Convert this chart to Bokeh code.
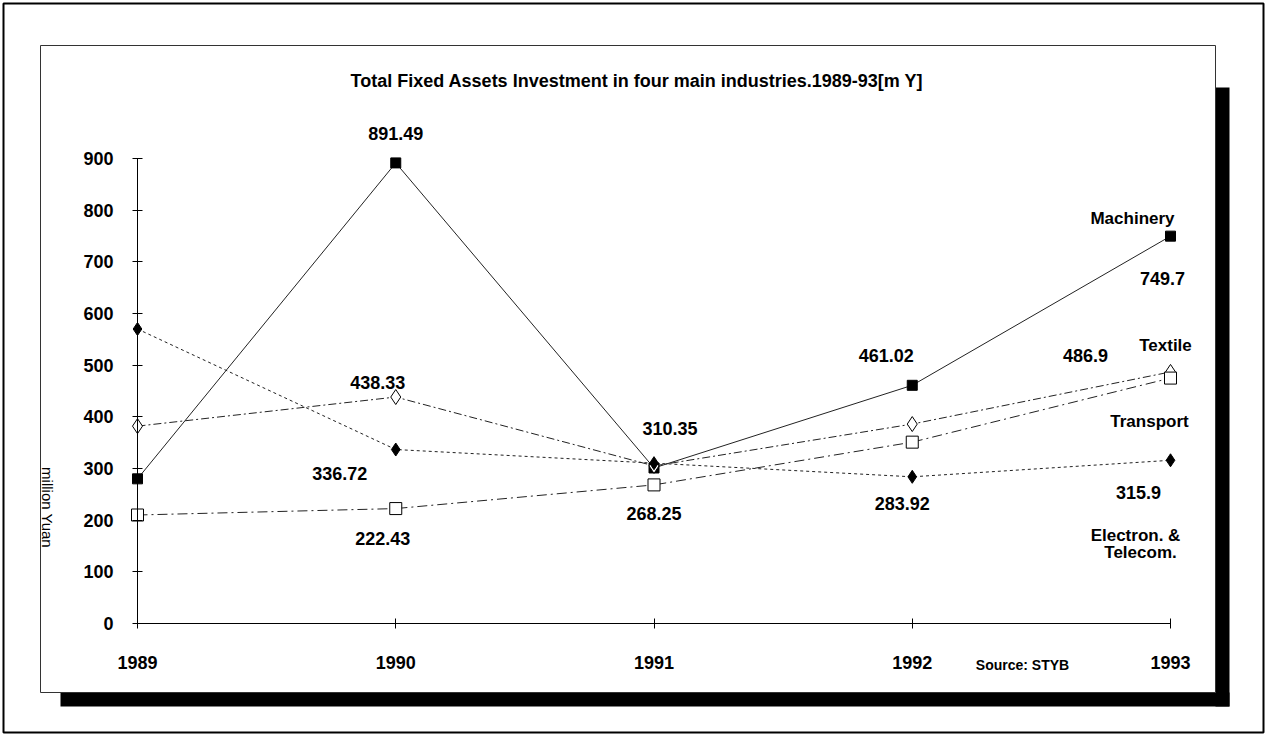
from bokeh.plotting import figure
from bokeh.models import Range1d, FixedTicker
from bokeh.core.properties import value
from bokeh.embed import file_html
from bokeh.resources import INLINE

# ---------------- data ----------------
years = [1989, 1990, 1991, 1992, 1993]
machinery = [280, 891.49, 301, 461.02, 749.7]
textile = [382, 438.33, 305, 386, 486.9]
transport = [210, 222.43, 268.25, 351, 475]
electron = [570, 336.72, 310.35, 283.92, 315.9]
y_ticks = [0, 100, 200, 300, 400, 500, 600, 700, 800, 900]
title_text = "Total Fixed Assets Investment in four main  industries.1989-93[m Y]"
y_label_text = "million Yuan"
source_text = "Source: STYB"
series_names = ["Machinery", "Textile", "Transport", "Electron. &", "Telecom."]

# ---------------- layout (pixels) ----------------
W, H = 1266, 735
X0_PX, X1_PX = 137, 1170      # 1989 .. 1993
Y0_PX, Y1_PX = 623, 158       # 0 .. 900
FONT = "Liberation Sans"

sx = (X1_PX - X0_PX) / (years[-1] - years[0])
sy = (Y0_PX - Y1_PX) / (y_ticks[-1] - y_ticks[0])
x_start = years[0] - X0_PX / sx
x_end = years[0] + (W - X0_PX) / sx
y_start = -(H - Y0_PX) / sy
y_end = Y0_PX / sy


def dx(px):
    return x_start + px / sx


def dy(py):
    return y_end - py / sy


p = figure(width=W, height=H, x_range=Range1d(x_start, x_end),
           y_range=Range1d(y_start, y_end), output_backend="svg",
           toolbar_location=None, min_border=0)
p.outline_line_color = None
p.grid.visible = False
p.background_fill_color = "white"
p.border_fill_color = "white"

# ---------------- decorations ----------------
# outer frame
p.quad(left=[dx(3)], right=[dx(1263)], top=[dy(3)], bottom=[dy(732)],
       fill_color=None, line_color="black", line_width=2)
# drop shadow
p.quad(left=[dx(1215), dx(60)], right=[dx(1229), dx(1229)],
       top=[dy(87), dy(692)], bottom=[dy(706), dy(706)],
       fill_color="black", line_color=None)
# inner box
p.quad(left=[dx(40)], right=[dx(1215)], top=[dy(45)], bottom=[dy(692)],
       fill_color="white", line_color="#333333", line_width=1)

# ---------------- axes ----------------
for ax in p.yaxis:
    ax.fixed_location = years[0]
    ax.bounds = (y_ticks[0], y_ticks[-1])
    ax.ticker = FixedTicker(ticks=y_ticks)
for ax in p.xaxis:
    ax.fixed_location = y_ticks[0]
    ax.bounds = (years[0], years[-1])
    ax.ticker = FixedTicker(ticks=years)
for ax in list(p.xaxis) + list(p.yaxis):
    ax.major_tick_in = 5
    ax.major_tick_out = 5
    ax.minor_tick_in = 0
    ax.minor_tick_out = 0
    ax.axis_line_color = "black"
    ax.major_tick_line_color = "black"
    ax.major_label_text_font = FONT
    ax.major_label_text_font_style = "bold"
    ax.major_label_text_font_size = "18px"
    ax.major_label_text_color = "black"
p.yaxis.major_label_standoff = 19
p.xaxis.major_label_standoff = 27

# ---------------- series ----------------
series = [
    (machinery, "solid", "square", 10, "black"),
    (textile, "8 3 2 3", "diamond", 15, "white"),
    (transport, "10 4 2 4", "square", 12, "white"),
    (electron, "3 3", "diamond", 13, "black"),
]
for vals, dash, marker, size, fill in series:
    p.line(years, vals, line_color="#222222", line_width=1, line_dash=dash)
for vals, dash, marker, size, fill in series:
    p.scatter(years, vals, marker=marker, size=size, fill_color=fill,
              line_color="black", line_width=1)

# ---------------- value labels ----------------
# (series values, year index, x offset px, y offset px)
label_specs = [
    (machinery, 1, 0, -29), (machinery, 3, -26, -30), (machinery, 4, -8, 42),
    (textile, 1, -18, -15), (textile, 4, -85, -16),
    (transport, 1, -13, 30), (transport, 2, 0, 29),
    (electron, 1, -56, 24), (electron, 2, 16, -35), (electron, 3, -10, 27),
    (electron, 4, -32, 32),
]
p.text(x=[years[i] for _, i, _, _ in label_specs],
       y=[s[i] for s, i, _, _ in label_specs],
       text=[f"{s[i]:g}" for s, i, _, _ in label_specs],
       x_offset=[o for _, _, o, _ in label_specs],
       y_offset=[o for _, _, _, o in label_specs],
       text_font=value(FONT), text_font_style="bold", text_font_size="18px",
       text_align="center", text_baseline="middle", text_color="black")

# series names next to last point
name_specs = [(machinery, -38, -18), (textile, -5, -26), (transport, -21, 43),
              (electron, -35, 75), (electron, -30, 92)]
p.text(x=[years[-1]] * len(name_specs),
       y=[s[-1] for s, _, _ in name_specs],
       text=series_names,
       x_offset=[o for _, o, _ in name_specs],
       y_offset=[o for _, _, o in name_specs],
       text_font=value(FONT), text_font_style="bold", text_font_size="17px",
       text_align="center", text_baseline="middle", text_color="black")

# title, axis label, source
p.text(x=[dx(639)], y=[dy(80)], text=[title_text], text_font=value(FONT),
       text_font_style="bold", text_font_size="18px", text_align="center",
       text_baseline="middle", text_color="black")
p.text(x=[dx(47)], y=[dy(507)], text=[y_label_text], angle=-1.5707963,
       text_font=value(FONT), text_font_size="15px", text_align="center",
       text_baseline="middle", text_color="black")
p.text(x=[dx(1022)], y=[dy(664)], text=[source_text], text_font=value(FONT),
       text_font_style="bold", text_font_size="14px", text_align="center",
       text_baseline="middle", text_color="black")

open("out.html", "w").write(file_html(p, INLINE))
